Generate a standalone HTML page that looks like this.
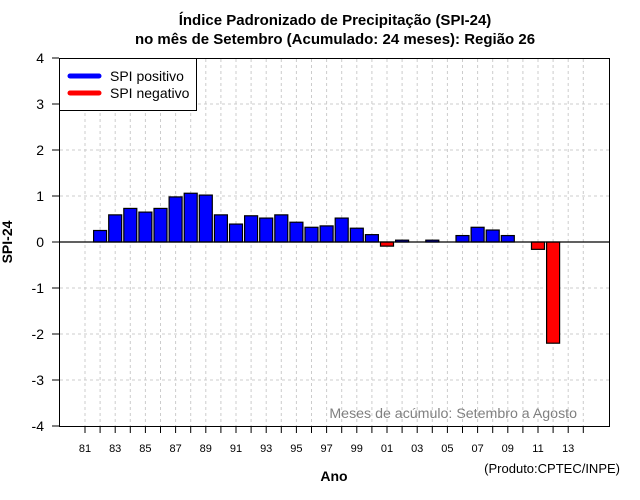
<!DOCTYPE html>
<html><head><meta charset="utf-8"><style>
body{margin:0;background:#fff}
svg{display:block;font-family:"Liberation Sans",sans-serif}
</style></head><body>
<svg width="640" height="500">
<rect width="640" height="500" fill="#fff"/>
<text x="335" y="25" text-anchor="middle" font-size="15" font-weight="bold">Índice Padronizado de Precipitação (SPI-24)</text>
<text x="335" y="44" text-anchor="middle" font-size="15" font-weight="bold">no mês de Setembro (Acumulado: 24 meses): Região 26</text>
<g id="grid"></g>
<g id="bars"></g>
<g id="axes"></g>
<rect x="59.5" y="58.5" width="550" height="368" fill="none" stroke="#000"/>
<g>
<rect x="59.5" y="58.5" width="137" height="52" fill="#fff" stroke="#000"/>
<line x1="70" y1="76" x2="99" y2="76" stroke="#00f" stroke-width="5" stroke-linecap="round"/>
<text x="110" y="81" font-size="14">SPI positivo</text>
<line x1="70" y1="93" x2="99" y2="93" stroke="#f00" stroke-width="5" stroke-linecap="round"/>
<text x="110" y="98" font-size="14">SPI negativo</text>
</g>
<text x="577" y="418" text-anchor="end" font-size="14.2" fill="#808080">Meses de acúmulo: Setembro a Agosto</text>
<text x="334" y="481" text-anchor="middle" font-size="14" font-weight="bold">Ano</text>
<text x="620" y="473" text-anchor="end" font-size="13">(Produto:CPTEC/INPE)</text>
<text transform="translate(12,242) rotate(-90)" text-anchor="middle" font-size="14" font-weight="bold">SPI-24</text>
</svg>
<script>
const years=[1982,1983,1984,1985,1986,1987,1988,1989,1990,1991,1992,1993,1994,1995,1996,1997,1998,1999,2000,2001,2002,2003,2004,2005,2006,2007,2008,2009,2010,2011,2012,2013];
const spiValues=[0.25,0.59,0.73,0.65,0.73,0.98,1.06,1.02,0.59,0.39,0.57,0.52,0.59,0.43,0.32,0.35,0.52,0.30,0.16,-0.09,0.04,0,0.04,0,0.14,0.32,0.26,0.14,0,-0.16,-2.2,0];
const yTicks=[-4,-3,-2,-1,0,1,2,3,4];
const xTickYears=[1981,1983,1985,1987,1989,1991,1993,1995,1997,1999,2001,2003,2005,2007,2009,2011,2013];
const NS='http://www.w3.org/2000/svg';
const xs=y=>85+(y-1981)*15.1;
const ys=v=>242-v*46;
function mk(t,a,p){const e=document.createElementNS(NS,t);for(const k in a)e.setAttribute(k,a[k]);p.appendChild(e);return e;}
const grid=document.getElementById('grid'),bars=document.getElementById('bars'),axes=document.getElementById('axes');
for(let y=1981;y<=2014;y++){
 const g=mk('line',{x1:xs(y),x2:xs(y),y1:59,y2:426,stroke:'#ccc','stroke-dasharray':'3,3'},grid);
 
 
 const t=mk('line',{x1:xs(y),x2:xs(y),y1:426,y2:433,stroke:'#000'},axes);
 
 
}
yTicks.forEach(v=>{
 if(v!==0&&Math.abs(v)<4){const g=mk('line',{x1:60,x2:609,y1:ys(v),y2:ys(v),stroke:'#ccc','stroke-dasharray':'3,3'},grid);
 
 }
 const t=mk('line',{x1:52,x2:59,y1:ys(v),y2:ys(v),stroke:'#000'},axes);
 
 
 const l=mk('text',{x:44,y:ys(v)+5,'text-anchor':'end','font-size':14},axes);
 l.textContent=v;
 
 
});
xTickYears.forEach(y=>{
 const l=mk('text',{x:xs(y),y:452,'text-anchor':'middle','font-size':11},axes);
 l.textContent=String(y%100).padStart(2,'0');
 
 
});
years.forEach((y,i)=>{
 const v=spiValues[i];if(v===0)return;
 const top=Math.min(ys(v),ys(0)),h=Math.abs(ys(v)-ys(0));
 const r=mk('rect',{x:xs(y)-6.5,y:top,width:13,height:h,fill:v>0?'#00f':'#f00',stroke:'#000','stroke-width':1.2},bars);
 
 
});
const z=mk('line',{x1:60,x2:609,y1:ys(0),y2:ys(0),stroke:'#000','stroke-width':1.2},bars);


</script>
</body></html>
